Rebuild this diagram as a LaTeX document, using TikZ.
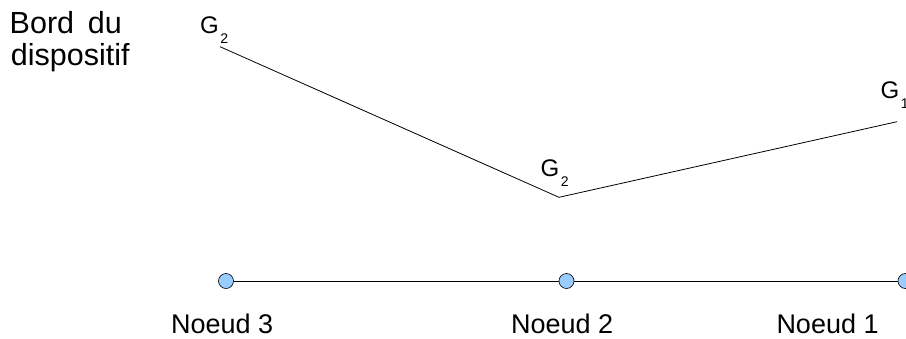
\documentclass[tikz,border=0pt]{standalone}
\usepackage{fontspec}
\setmainfont{Liberation Sans}
\definecolor{nodeblue}{HTML}{99CCFF}
\newcommand\glab[1]{G\hspace{1.5pt}\raisebox{-10pt}{\fontsize{14}{14}\selectfont #1}}
\begin{document}
\begin{tikzpicture}[x=1pt,y=-1pt,
  lbl/.style={anchor=base west,inner sep=0pt,font=\fontsize{24}{24}\selectfont},
  bord/.style={anchor=base west,inner sep=0pt,font=\fontsize{30.5}{33}\selectfont},
  noeudlbl/.style={anchor=base west,inner sep=0pt,font=\fontsize{27}{27}\selectfont},
  dot/.style={circle,draw=black,fill=nodeblue,line width=0.6pt,minimum size=15pt,inner sep=0pt},
  edge/.style={line width=0.8pt}]
\useasboundingbox (0,0) rectangle (906,338);
% title
\node[bord] (b1) at (9.5,33.3) {\spaceskip=0.45em Bord du};
\node[bord] (b2) at (10.7,65.7) {dispositif};
% G curve
\coordinate (p1) at (220,46.7);
\coordinate (p2) at (559,197.3);
\coordinate (p3) at (897,121.7);
\draw[edge] (p1) -- (p2) -- (p3);
\node[lbl] (g2a) at (200,33) {\glab{2}};
\node[lbl] (g2b) at (540.5,176) {\glab{2}};
\node[lbl] (g1) at (880.5,98.5) {\glab{1}};
% nodes line
\node[dot] (n3) at (226,281) {};
\node[dot] (n2) at (566.5,281) {};
\node[dot] (n1) at (905.5,281) {};
\draw[edge] (n3) -- (n2) -- (n1);
\node[noeudlbl] (l3) at (171,333) {Noeud 3};
\node[noeudlbl] (l2) at (511,333) {Noeud 2};
\node[noeudlbl] (l1) at (776.3,333) {Noeud 1};
\end{tikzpicture}
\end{document}
